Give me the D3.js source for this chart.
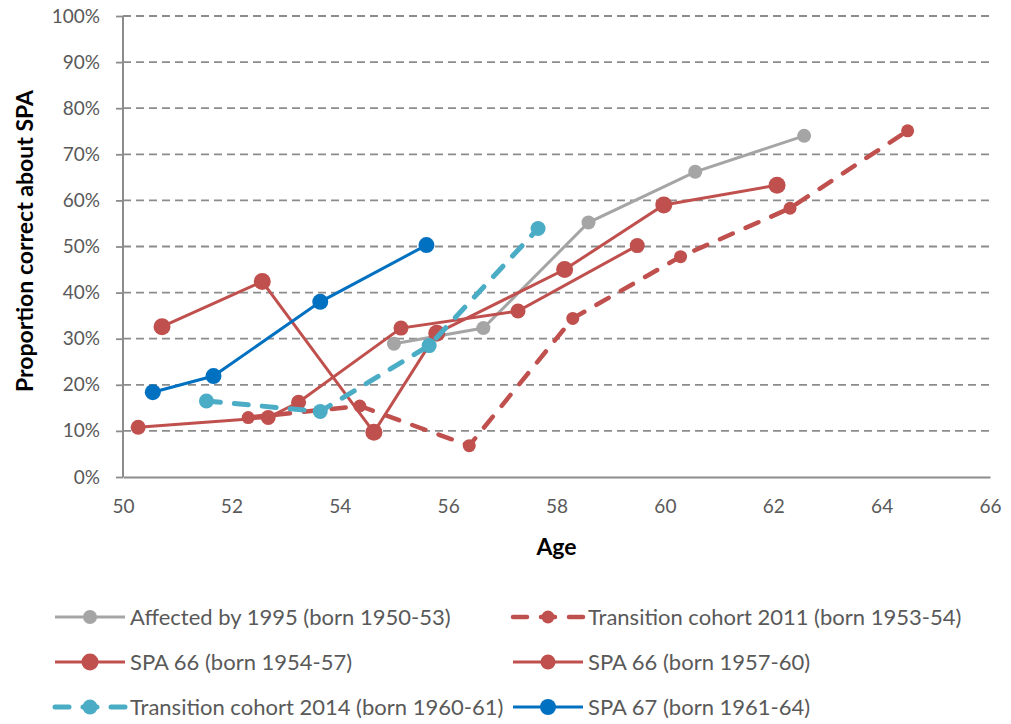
<!DOCTYPE html>
<html><head><meta charset="utf-8">
<script src="https://cdn.jsdelivr.net/npm/d3@7"></script>
<style>body{margin:0;background:#fff;} svg{display:block;font-family:Lato,"Open Sans",sans-serif;}</style>
</head><body>
<svg id="chart" width="1011" height="724"></svg>
<script>
// ---- data ----
const xTicks = [50, 52, 54, 56, 58, 60, 62, 64, 66];
const yTicks = [0, 10, 20, 30, 40, 50, 60, 70, 80, 90, 100];

const affected1995Age = [55.0, 56.65, 58.59, 60.56, 62.57];
const affected1995Val = [28.9, 32.3, 55.2, 66.2, 74.0];

const trans2011Age = [52.31, 54.37, 56.39, 58.30, 60.29, 62.31, 64.48];
const trans2011Val = [12.9, 15.4, 6.8, 34.4, 47.8, 58.3, 75.1];

const spa66aAge = [50.72, 52.57, 54.63, 55.79, 58.15, 59.98, 62.07];
const spa66aVal = [32.6, 42.4, 9.7, 31.2, 45.0, 59.0, 63.3];

const spa66bAge = [50.28, 52.68, 53.24, 55.13, 57.29, 59.49];
const spa66bVal = [10.8, 12.9, 16.2, 32.3, 36.0, 50.2];

const trans2014Age = [51.54, 53.64, 55.65, 57.66];
const trans2014Val = [16.5, 14.2, 28.5, 53.9];

const spa67Age = [50.55, 51.67, 53.64, 55.60];
const spa67Val = [18.4, 21.9, 38.0, 50.3];

const seriesNames = [
  "Affected by 1995 (born 1950-53)",
  "Transition cohort 2011 (born 1953-54)",
  "SPA 66 (born 1954-57)",
  "SPA 66 (born 1957-60)",
  "Transition cohort 2014 (born 1960-61)",
  "SPA 67 (born 1961-64)"
];

// ---- styles ----
const styles = [
  {color:"#A5A5A5", dash:null, r:7, w:3},
  {color:"#C0504D", dash:"14,14", r:6.5, w:4.5},
  {color:"#C0504D", dash:null, r:8.5, w:3},
  {color:"#C0504D", dash:null, r:7.5, w:3},
  {color:"#4BACC6", dash:"14,14", r:7.5, w:5},
  {color:"#0070C0", dash:null, r:8, w:3}
];
const series = [
  [affected1995Age, affected1995Val],
  [trans2011Age, trans2011Val],
  [spa66aAge, spa66aVal],
  [spa66bAge, spa66bVal],
  [trans2014Age, trans2014Val],
  [spa67Age, spa67Val]
].map((s,i)=>({name:seriesNames[i], style:styles[i], pts:s[0].map((a,j)=>({x:a,y:s[1][j]}))}));

const svg = d3.select("#chart");
const pL = 123, pR = 990, pT = 16, pB = 477;
const x = d3.scaleLinear().domain([50,66]).range([pL,pR]);
const y = d3.scaleLinear().domain([0,100]).range([pB,pT]);

// gridlines
svg.append("g").selectAll("line").data(yTicks.filter(d=>d>0)).join("line")
  .attr("x1",pL).attr("x2",pR).attr("y1",d=>y(d)).attr("y2",d=>y(d))
  .attr("stroke","#8C8C8C").attr("stroke-width",1.8).attr("stroke-dasharray","8,5");

// y axis
const yAxis = svg.append("g").attr("transform",`translate(${pL},0)`)
  .call(d3.axisLeft(y).tickValues(yTicks).tickFormat(d=>d+"%").tickSize(7).tickPadding(16));
yAxis.select(".domain").attr("stroke","#8C8C8C").attr("stroke-width",2).attr("d",`M0,${pT}V${pB}`);
yAxis.selectAll(".tick line").attr("stroke","#8C8C8C").attr("stroke-width",1.8);
yAxis.selectAll("text").attr("fill","#595959").style("font-size","19px").style("font-family","Lato");

// x axis
const xAxis = svg.append("g").attr("transform",`translate(0,${pB})`)
  .call(d3.axisBottom(x).tickValues(xTicks).tickFormat(d3.format("d")).tickSize(0).tickPadding(23));
xAxis.select(".domain").attr("stroke","#8C8C8C").attr("stroke-width",2);
xAxis.selectAll("text").attr("fill","#595959").style("font-size","19px").style("font-family","Lato");

// axis titles
svg.append("text").attr("x",(pL+pR)/2).attr("y",555).attr("text-anchor","middle")
  .attr("font-weight","bold").attr("fill","#000").style("font-size","23px").text("Age");
svg.append("text").attr("transform",`translate(33,241) rotate(-90)`).attr("text-anchor","middle")
  .attr("font-weight","bold").attr("fill","#000").style("font-size","23px").text("Proportion correct about SPA");

// series
const line = d3.line().x(d=>x(d.x)).y(d=>y(d.y));
const g = svg.append("g");
series.forEach(s=>{
  const gg = g.append("g");
  gg.append("path").datum(s.pts).attr("d",line).attr("fill","none")
    .attr("stroke",s.style.color).attr("stroke-width",s.style.w)
    .attr("stroke-linecap",s.style.dash?"round":"butt")
    .attr("stroke-dasharray",s.style.dash);
  gg.selectAll("circle").data(s.pts).join("circle")
    .attr("cx",d=>x(d.x)).attr("cy",d=>y(d.y)).attr("r",s.style.r).attr("fill",s.style.color);
});

// legend
const legPos = [[55,617],[513,617],[55,662],[513,662],[55,707],[513,707]];
const leg = svg.append("g");
series.forEach((s,i)=>{
  const [lx,ly] = legPos[i];
  const gg = leg.append("g").attr("transform",`translate(${lx},${ly})`);
  gg.append("line").attr("x1",0).attr("x2",70).attr("y1",0).attr("y2",0)
    .attr("stroke",s.style.color).attr("stroke-width",s.style.w)
    .attr("stroke-linecap",s.style.dash?"round":"butt")
    .attr("stroke-dasharray",s.style.dash?"14,14":null);
  gg.append("circle").attr("cx",35).attr("cy",0).attr("r",s.style.r).attr("fill",s.style.color);
  gg.append("text").attr("x",75).attr("y",0).attr("dy","0.35em")
    .attr("fill","#595959").style("font-size","22px").text(s.name);
});
</script>
</body></html>
